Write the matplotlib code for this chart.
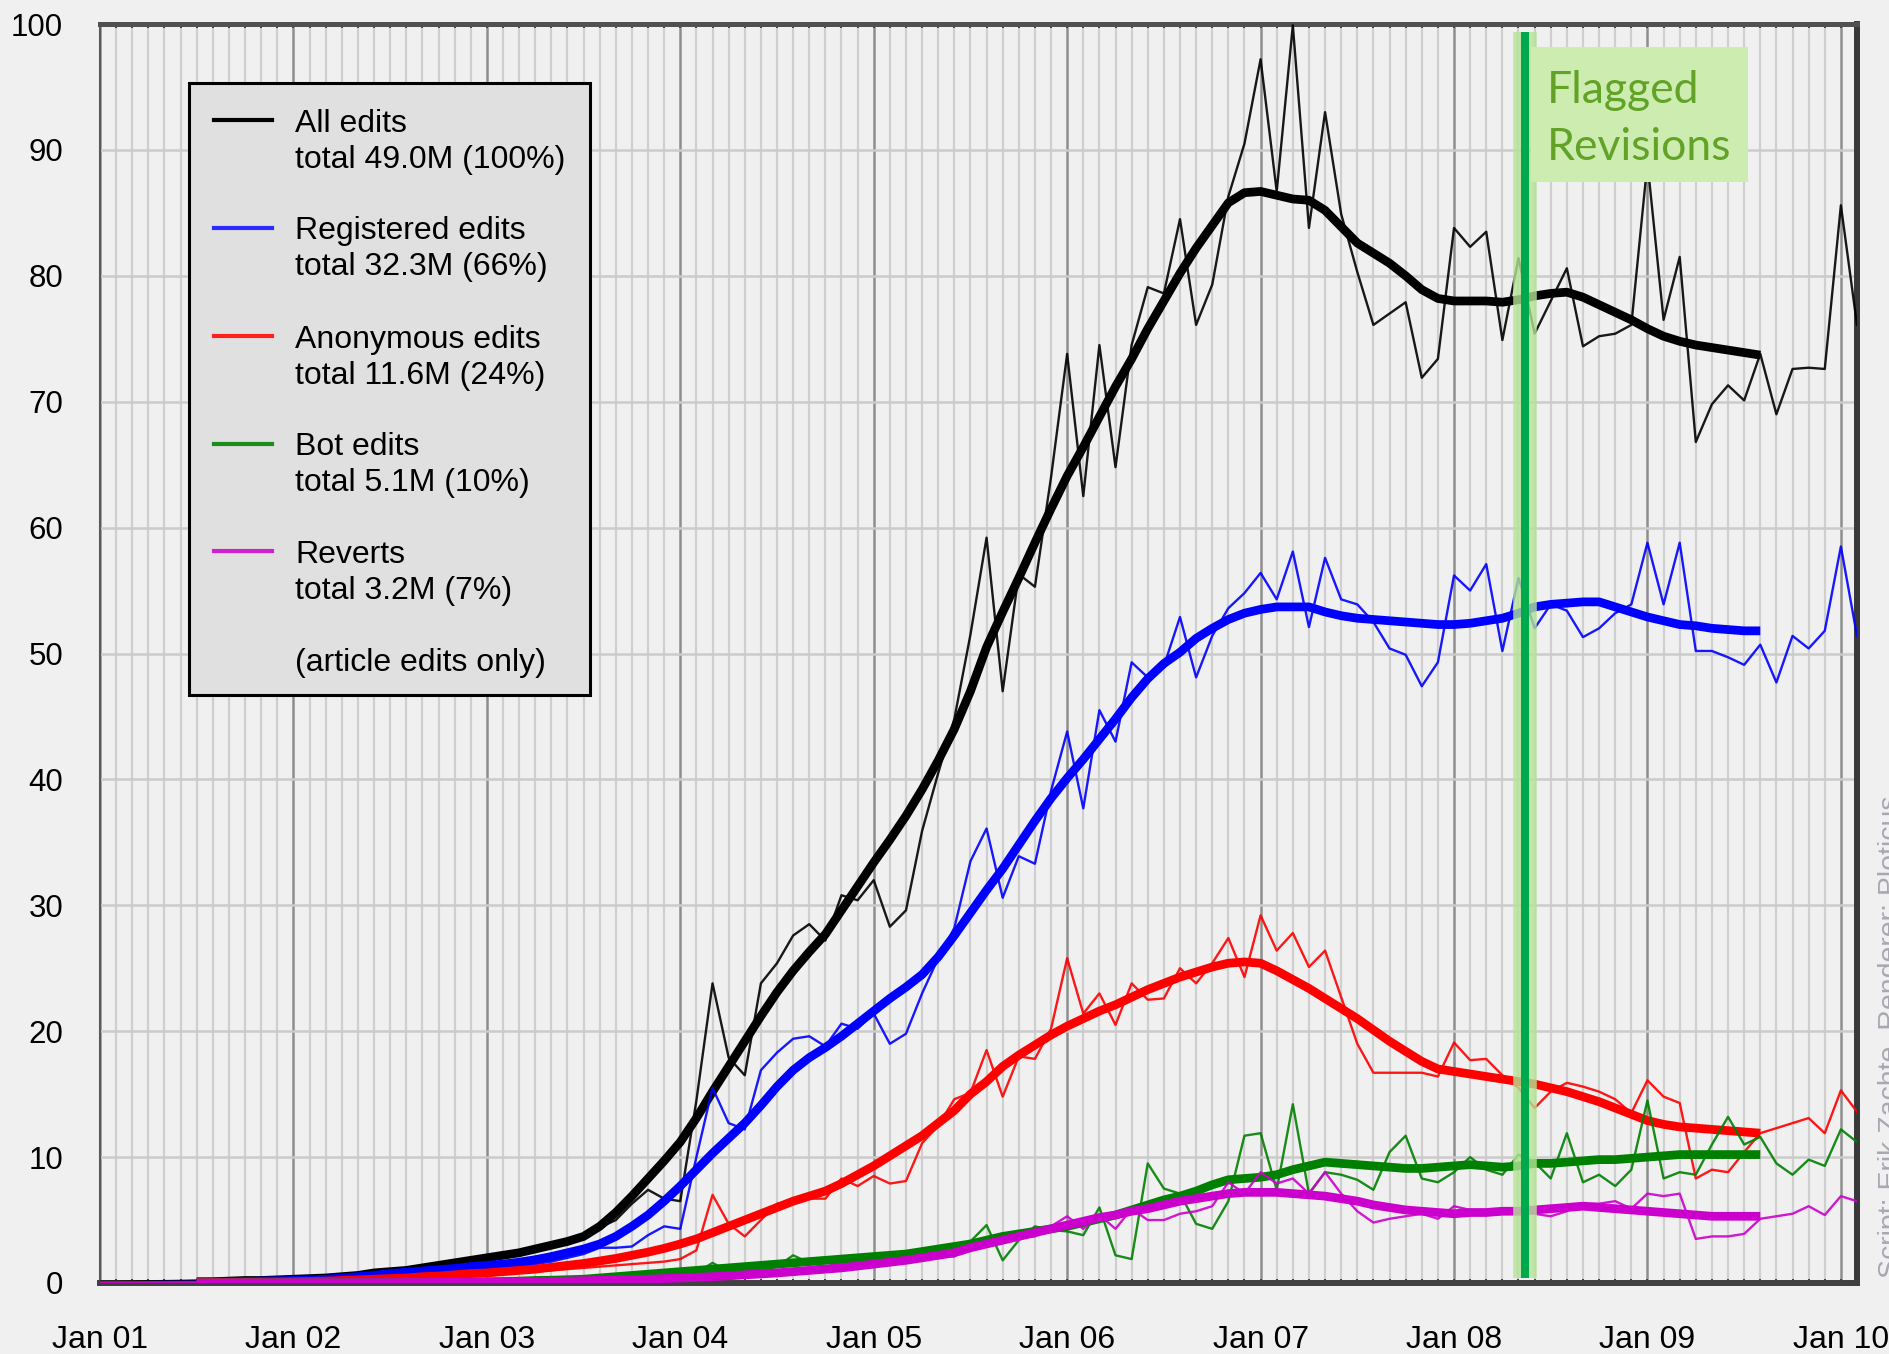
import matplotlib.pyplot as plt
import numpy as np
from matplotlib.patches import Rectangle
from matplotlib.lines import Line2D

# edits per month (x 1000), month 0 = Jan 2001
months = np.arange(110)
smooth_months = np.arange(6, 104)

all_edits = [0.1,0.1,0.12,0.14,0.15,0.17,0.2,0.22,0.25,0.28,0.3,0.33,
	0.36,0.4,0.45,0.5,0.6,0.7,0.8,0.9,1.0,1.1,1.3,1.5,
	2.0,2.2,2.4,2.7,2.9,3.3,3.8,4.4,5.0,6.3,7.4,6.7,
	6.5,14.5,23.8,17.9,16.5,23.8,25.4,27.6,28.5,27.2,30.8,30.4,
	32.0,28.3,29.6,35.9,40.5,44.8,51.5,59.2,47.0,56.3,55.3,64.0,
	73.8,62.5,74.5,64.8,74.5,79.1,78.6,84.5,76.1,79.3,86.3,90.5,
	97.2,86.7,99.9,83.8,93.0,84.9,80.3,76.1,77.0,77.9,71.9,73.4,
	83.8,82.3,83.5,74.9,81.4,75.4,78.0,80.6,74.4,75.2,75.4,76.1,
	89.0,76.5,81.5,66.8,69.8,71.3,70.1,73.8,69.0,72.6,72.7,72.6,
	85.6,76.1]
registered = [0.05,0.05,0.06,0.07,0.08,0.09,0.1,0.11,0.12,0.14,0.16,0.18,
	0.2,0.22,0.25,0.28,0.32,0.4,0.5,0.6,0.7,0.8,0.9,1.0,
	1.1,1.2,1.35,1.5,1.7,2.0,2.3,2.8,2.8,2.9,3.8,4.5,
	4.3,10.0,15.5,12.7,12.2,16.9,18.3,19.4,19.6,18.8,20.6,20.2,
	21.4,19.0,19.8,23.0,25.8,28.2,33.5,36.1,30.6,33.9,33.3,39.1,
	43.8,37.7,45.5,43.0,49.3,48.1,49.0,52.9,48.1,51.4,53.6,54.8,
	56.4,54.3,58.1,52.1,57.6,54.3,53.9,52.5,50.4,49.9,47.4,49.3,
	56.2,55.0,57.1,50.2,56.0,52.0,53.9,53.4,51.3,52.0,53.2,53.9,
	58.8,53.9,58.8,50.2,50.2,49.7,49.1,50.7,47.7,51.4,50.4,51.8,
	58.5,51.4]
anonymous = [0.05,0.05,0.05,0.06,0.06,0.07,0.07,0.08,0.08,0.09,0.09,0.1,
	0.1,0.12,0.15,0.2,0.25,0.3,0.35,0.4,0.5,0.55,0.6,0.7,
	0.8,0.85,0.9,1.0,1.0,1.1,1.2,1.3,1.4,1.5,1.6,1.7,
	1.9,2.6,7.0,4.7,3.7,5.0,6.3,6.5,6.7,6.7,8.3,7.7,
	8.5,7.9,8.1,11.1,12.5,14.6,15.1,18.5,14.8,18.0,17.8,20.2,
	25.8,21.4,23.0,20.5,23.8,22.5,22.6,25.0,23.8,25.4,27.4,24.3,
	29.2,26.4,27.8,25.1,26.4,22.7,19.0,16.7,16.7,16.7,16.7,16.4,
	19.1,17.7,17.8,16.5,15.5,13.9,15.2,15.9,15.6,15.2,14.6,13.5,
	16.1,14.8,14.3,8.3,9.0,8.8,10.4,11.9,12.3,12.7,13.1,11.9,
	15.3,13.6]
bots = [0.0,0.0,0.0,0.0,0.0,0.01,0.01,0.01,0.01,0.02,0.02,0.02,
	0.02,0.03,0.03,0.04,0.04,0.05,0.05,0.06,0.06,0.07,0.08,0.09,
	0.1,0.12,0.15,0.2,0.2,0.25,0.3,0.35,0.4,0.45,0.5,0.55,
	0.6,0.8,1.6,0.9,0.9,1.0,1.3,2.2,1.6,1.3,1.6,1.7,
	1.7,1.9,2.0,2.1,2.2,2.1,3.3,4.6,1.8,3.4,4.5,4.2,
	4.1,3.8,6.0,2.2,1.9,9.5,7.5,7.1,4.7,4.3,6.5,11.7,
	11.9,7.4,14.2,7.1,8.8,8.6,8.2,7.4,10.4,11.7,8.3,8.0,
	8.8,10.0,9.0,8.6,10.2,9.6,8.3,11.9,8.0,8.6,7.7,9.0,
	14.5,8.3,8.8,8.6,11.0,13.2,11.0,11.6,9.5,8.6,9.8,9.3,
	12.2,11.2]
reverts = [0.0,0.0,0.0,0.0,0.0,0.0,0.01,0.01,0.01,0.01,0.01,0.01,
	0.02,0.02,0.02,0.02,0.03,0.03,0.03,0.03,0.04,0.04,0.05,0.05,
	0.06,0.07,0.08,0.1,0.11,0.13,0.15,0.2,0.25,0.3,0.35,0.4,
	0.5,0.5,0.7,0.6,0.65,0.8,0.9,1.1,1.0,1.1,1.3,1.3,
	1.5,1.5,1.7,1.9,2.1,2.3,2.7,3.1,3.3,3.6,3.7,4.5,
	5.3,4.3,5.4,4.3,5.9,5.0,5.0,5.5,5.7,6.1,8.0,7.1,
	8.8,7.9,8.3,7.1,8.8,7.1,5.7,4.8,5.1,5.3,5.5,5.1,
	6.1,5.8,5.7,5.5,5.7,5.5,5.3,5.7,6.3,6.3,6.5,5.9,
	7.1,6.9,7.1,3.5,3.7,3.7,3.9,5.1,5.3,5.5,6.1,5.4,
	6.9,6.5]

# smoothed curves, Jul 2001 .. Aug 2009
all_smooth = [0.1,0.1,0.15,0.2,0.2,0.25,
	0.3,0.35,0.4,0.5,0.6,0.8,0.9,1.0,1.2,1.4,1.6,1.8,
	2.0,2.2,2.4,2.7,3.0,3.3,3.7,4.5,5.6,6.9,8.3,9.7,
	11.2,13.1,15.2,17.2,19.2,21.2,23.1,24.8,26.3,27.7,29.6,31.5,
	33.4,35.2,37.1,39.2,41.5,44.0,47.0,50.5,53.3,56.0,58.8,61.5,
	64.1,66.4,68.8,71.2,73.4,75.8,78.0,80.2,82.2,84.0,85.8,86.6,
	86.7,86.4,86.1,86.0,85.2,83.9,82.6,81.8,81.0,80.0,78.9,78.2,
	78.0,78.0,78.0,77.9,78.1,78.4,78.6,78.7,78.3,77.7,77.1,76.5,
	75.8,75.2,74.8,74.5,74.3,74.1,73.9,73.7]
registered_smooth = [0.05,0.07,0.1,0.12,0.15,0.18,
	0.2,0.25,0.3,0.4,0.5,0.6,0.75,0.85,0.95,1.05,1.15,1.3,
	1.4,1.5,1.65,1.85,2.1,2.4,2.7,3.1,3.7,4.5,5.4,6.5,
	7.7,9.0,10.3,11.5,12.7,14.1,15.6,16.9,17.9,18.7,19.6,20.6,
	21.6,22.6,23.5,24.5,25.9,27.6,29.4,31.2,32.9,34.8,36.7,38.5,
	40.1,41.6,43.2,44.8,46.5,48.0,49.2,50.1,51.2,52.0,52.7,53.2,
	53.5,53.7,53.7,53.7,53.3,53.0,52.8,52.7,52.6,52.5,52.4,52.3,
	52.3,52.4,52.6,52.8,53.2,53.7,53.9,54.0,54.1,54.1,53.7,53.3,
	52.9,52.6,52.3,52.2,52.0,51.9,51.8,51.8]
anonymous_smooth = [0.05,0.05,0.05,0.06,0.07,0.08,
	0.1,0.12,0.15,0.2,0.25,0.3,0.35,0.4,0.5,0.55,0.65,0.75,
	0.8,0.9,1.0,1.1,1.25,1.4,1.55,1.75,1.95,2.2,2.45,2.75,
	3.1,3.5,4.0,4.5,5.0,5.5,6.0,6.5,6.9,7.3,7.9,8.6,
	9.3,10.1,10.9,11.7,12.7,13.7,15.0,16.0,17.2,18.1,18.9,19.7,
	20.4,21.0,21.6,22.1,22.7,23.3,23.8,24.3,24.7,25.1,25.4,25.5,
	25.4,24.8,24.1,23.4,22.6,21.8,21.0,20.1,19.2,18.4,17.6,17.0,
	16.8,16.6,16.4,16.2,16.0,15.8,15.5,15.2,14.8,14.4,13.9,13.4,
	12.9,12.6,12.4,12.3,12.2,12.1,12.0,11.9]
bots_smooth = [0.01,0.01,0.01,0.02,0.02,0.02,
	0.03,0.03,0.03,0.04,0.04,0.05,0.05,0.06,0.07,0.07,0.08,0.09,
	0.1,0.12,0.15,0.2,0.22,0.26,0.3,0.4,0.5,0.6,0.7,0.8,
	0.9,1.0,1.1,1.2,1.3,1.4,1.5,1.6,1.7,1.8,1.9,2.0,
	2.1,2.2,2.3,2.5,2.7,2.9,3.1,3.4,3.7,3.9,4.1,4.3,
	4.5,4.8,5.1,5.4,5.8,6.2,6.6,6.9,7.3,7.8,8.2,8.3,
	8.4,8.6,9.0,9.3,9.6,9.5,9.4,9.3,9.2,9.1,9.1,9.2,
	9.3,9.4,9.3,9.2,9.3,9.5,9.5,9.6,9.7,9.8,9.8,9.9,
	10.0,10.1,10.2,10.2,10.2,10.2,10.2,10.2]
reverts_smooth = [0.0,0.0,0.01,0.01,0.01,0.01,
	0.02,0.02,0.02,0.02,0.03,0.03,0.03,0.04,0.04,0.05,0.05,0.06,
	0.07,0.08,0.09,0.1,0.12,0.15,0.18,0.21,0.25,0.28,0.3,0.35,
	0.4,0.45,0.5,0.57,0.65,0.72,0.8,0.9,1.0,1.1,1.2,1.35,
	1.5,1.65,1.8,2.0,2.2,2.4,2.8,3.1,3.4,3.7,4.0,4.3,
	4.6,4.9,5.2,5.4,5.7,5.9,6.2,6.5,6.7,6.9,7.1,7.2,
	7.2,7.2,7.1,7.0,6.9,6.7,6.5,6.2,6.0,5.8,5.7,5.6,
	5.5,5.6,5.6,5.7,5.7,5.8,5.9,6.0,6.1,6.0,5.9,5.8,
	5.7,5.6,5.5,5.4,5.3,5.3,5.3,5.3]

series_names = ["All edits", "Registered edits", "Anonymous edits", "Bot edits", "Reverts"]
series_totals = ["total 49.0M (100%)", "total 32.3M (66%)", "total 11.6M (24%)",
	"total 5.1M (10%)", "total 3.2M (7%)"]
tick_labels = ["Jan 01", "Jan 02", "Jan 03", "Jan 04", "Jan 05", "Jan 06", "Jan 07", "Jan 08", "Jan 09", "Jan 10"]
flagged_month = 88.4

colors = ["#000000", "#0000ff", "#ff0000", "#008000", "#cc00cc"]
legend_colors = ["#000000", "#2a2aff", "#ff2020", "#1c8c1c", "#d020d0"]

W, H = 1889, 1354
plt.rcParams['font.family'] = ['Liberation Sans', 'DejaVu Sans']

fig = plt.figure(figsize=(W / 100, H / 100), dpi=100, facecolor="#f0f0f0")
ax = fig.add_axes([100 / W, 1 - 1283 / H, (1857 - 100) / W, (1283 - 24) / H])
ax.set_facecolor("#f0f0f0")

thin = [all_edits, registered, anonymous, bots, reverts]
thick = [all_smooth, registered_smooth, anonymous_smooth, bots_smooth, reverts_smooth]
for i in range(5):
	ax.plot(months, thin[i], color=colors[i], lw=1.7, alpha=0.9, zorder=3 + 2 * i)
	ax.plot(smooth_months, thick[i], color=colors[i], lw=6.3, solid_capstyle="butt", zorder=4 + 2 * i)

# flagged revisions marker
ax.plot([flagged_month, flagged_month], [0.4, 99.4], color="#b4e496", lw=17, alpha=0.8,
	solid_capstyle="butt", zorder=20)
ax.plot([flagged_month, flagged_month], [0.4, 99.4], color="#00aa4c", lw=5.8,
	solid_capstyle="butt", zorder=21)

ax.set_xlim(0, 109)
ax.set_ylim(0, 100)
ax.set_xticks(range(0, 109, 12), labels=tick_labels)
ax.set_xticks([m for m in range(110) if m % 12], minor=True)
ax.set_yticks(range(0, 101, 10), labels=[str(v) for v in range(0, 101, 10)])

ax.set_axisbelow(True)
ax.grid(which="minor", axis="x", color="#cfcfcf", lw=1.6)
ax.grid(which="major", axis="x", color="#8e8e8e", lw=1.8)
ax.grid(which="major", axis="y", color="#cbcbcb", lw=1.8)

ax.tick_params(axis="x", which="both", direction="in", top=True, bottom=True,
	length=3, width=1.4, color="#404040", labelsize=23, pad=30)
ax.tick_params(axis="y", length=0, labelsize=22.5, pad=26.5)

ax.spines["top"].set_color("#505050")
ax.spines["top"].set_linewidth(3.6)
ax.spines["bottom"].set_color("#404040")
ax.spines["bottom"].set_linewidth(4.3)
ax.spines["left"].set_color("#5a5a5a")
ax.spines["left"].set_linewidth(1.5)
ax.spines["right"].set_color("#383838")
ax.spines["right"].set_linewidth(4.3)

# legend box
fig.patches.append(Rectangle((189 / W, 1 - 695 / H), (590 - 189) / W, (695 - 83) / H,
	transform=fig.transFigure, facecolor="#e0e0e0", edgecolor="black", lw=2.2, zorder=5))
first_base = [132, 239.5, 348, 455.5, 563]
for i in range(5):
	y = first_base[i]
	fig.lines.append(Line2D([214 / W, 272 / W], [1 - (y - 12) / H] * 2, transform=fig.transFigure,
		color=legend_colors[i], lw=3, zorder=6))
	fig.text(295 / W, 1 - y / H, series_names[i], fontsize=23, va="baseline", zorder=6)
	fig.text(295 / W, 1 - (y + 36) / H, series_totals[i], fontsize=23, va="baseline", zorder=6)
fig.text(295 / W, 1 - 671 / H, "(article edits only)", fontsize=23, va="baseline", zorder=6)

# flagged revisions label
fig.patches.append(Rectangle((1531 / W, 1 - 182 / H), (1748 - 1531) / W, (182 - 47) / H,
	transform=fig.transFigure, facecolor="#ccecb0", edgecolor="none", zorder=5))
fig.text(1547 / W, 1 - 103 / H, "Flagged", fontsize=32, family="Lato", color="#62a226",
	va="baseline", zorder=6)
fig.text(1547 / W, 1 - 160 / H, "Revisions", fontsize=32, family="Lato", color="#62a226",
	va="baseline", zorder=6)

fig.text(1898 / W, 1 - 1278 / H, "Script: Erik Zachte. Renderer: Ploticus", rotation=90,
	rotation_mode="anchor", ha="left", va="baseline", fontsize=20.5, color="#aaa6b2")

plt.savefig("out.png", dpi=100, facecolor=fig.get_facecolor())
